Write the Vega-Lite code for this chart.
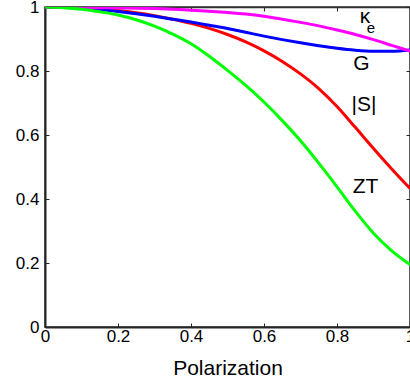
{
  "$schema": "https://vega.github.io/schema/vega-lite/v6.json",
  "width": 365,
  "height": 320,
  "autosize": "none",
  "padding": {"left": 45, "top": 7, "right": 0, "bottom": 56},
  "config": {
    "view": {"stroke": "#333333", "strokeWidth": 1.5},
    "font": "Liberation Sans",
    "axis": {"grid": false, "domainColor": "#262626", "tickColor": "#262626", "labelColor": "#000000", "titleColor": "#000000", "labelFont": "Liberation Sans", "titleFont": "Liberation Sans", "labelFontWeight": "normal", "titleFontWeight": "normal"}
  },
  "datasets": {
    "curves": [
      {"P": 0, "s": "S", "v": 1}, {"P": 0.05, "s": "S", "v": 0.999}, {"P": 0.1, "s": "S", "v": 0.997}, {"P": 0.15, "s": "S", "v": 0.994}, {"P": 0.2, "s": "S", "v": 0.989}, {"P": 0.25, "s": "S", "v": 0.982}, {"P": 0.3, "s": "S", "v": 0.973}, {"P": 0.35, "s": "S", "v": 0.962}, {"P": 0.4, "s": "S", "v": 0.949}, {"P": 0.45, "s": "S", "v": 0.933}, {"P": 0.5, "s": "S", "v": 0.914}, {"P": 0.55, "s": "S", "v": 0.891}, {"P": 0.6, "s": "S", "v": 0.863}, {"P": 0.65, "s": "S", "v": 0.83}, {"P": 0.7, "s": "S", "v": 0.791}, {"P": 0.75, "s": "S", "v": 0.745}, {"P": 0.8, "s": "S", "v": 0.689}, {"P": 0.85, "s": "S", "v": 0.624}, {"P": 0.9, "s": "S", "v": 0.558}, {"P": 0.95, "s": "S", "v": 0.494}, {"P": 1, "s": "S", "v": 0.433},
      {"P": 0, "s": "G", "v": 1}, {"P": 0.05, "s": "G", "v": 0.999}, {"P": 0.1, "s": "G", "v": 0.996}, {"P": 0.15, "s": "G", "v": 0.992}, {"P": 0.2, "s": "G", "v": 0.986}, {"P": 0.25, "s": "G", "v": 0.979}, {"P": 0.3, "s": "G", "v": 0.971}, {"P": 0.35, "s": "G", "v": 0.962}, {"P": 0.4, "s": "G", "v": 0.953}, {"P": 0.45, "s": "G", "v": 0.943}, {"P": 0.5, "s": "G", "v": 0.933}, {"P": 0.55, "s": "G", "v": 0.921}, {"P": 0.6, "s": "G", "v": 0.909}, {"P": 0.65, "s": "G", "v": 0.898}, {"P": 0.7, "s": "G", "v": 0.888}, {"P": 0.75, "s": "G", "v": 0.879}, {"P": 0.8, "s": "G", "v": 0.871}, {"P": 0.85, "s": "G", "v": 0.865}, {"P": 0.9, "s": "G", "v": 0.862}, {"P": 0.95, "s": "G", "v": 0.862}, {"P": 1, "s": "G", "v": 0.866},
      {"P": 0, "s": "K", "v": 1}, {"P": 0.05, "s": "K", "v": 1}, {"P": 0.1, "s": "K", "v": 0.999}, {"P": 0.15, "s": "K", "v": 0.998}, {"P": 0.2, "s": "K", "v": 0.997}, {"P": 0.25, "s": "K", "v": 0.996}, {"P": 0.3, "s": "K", "v": 0.995}, {"P": 0.35, "s": "K", "v": 0.993}, {"P": 0.4, "s": "K", "v": 0.99}, {"P": 0.45, "s": "K", "v": 0.987}, {"P": 0.5, "s": "K", "v": 0.983}, {"P": 0.55, "s": "K", "v": 0.978}, {"P": 0.6, "s": "K", "v": 0.971}, {"P": 0.65, "s": "K", "v": 0.962}, {"P": 0.7, "s": "K", "v": 0.952}, {"P": 0.75, "s": "K", "v": 0.941}, {"P": 0.8, "s": "K", "v": 0.928}, {"P": 0.85, "s": "K", "v": 0.914}, {"P": 0.9, "s": "K", "v": 0.898}, {"P": 0.95, "s": "K", "v": 0.88}, {"P": 1, "s": "K", "v": 0.862},
      {"P": 0, "s": "ZT", "v": 1}, {"P": 0.05, "s": "ZT", "v": 0.998}, {"P": 0.1, "s": "ZT", "v": 0.993}, {"P": 0.15, "s": "ZT", "v": 0.985}, {"P": 0.2, "s": "ZT", "v": 0.975}, {"P": 0.25, "s": "ZT", "v": 0.96}, {"P": 0.3, "s": "ZT", "v": 0.94}, {"P": 0.35, "s": "ZT", "v": 0.915}, {"P": 0.4, "s": "ZT", "v": 0.885}, {"P": 0.45, "s": "ZT", "v": 0.846}, {"P": 0.5, "s": "ZT", "v": 0.802}, {"P": 0.55, "s": "ZT", "v": 0.755}, {"P": 0.6, "s": "ZT", "v": 0.703}, {"P": 0.65, "s": "ZT", "v": 0.645}, {"P": 0.7, "s": "ZT", "v": 0.582}, {"P": 0.75, "s": "ZT", "v": 0.512}, {"P": 0.8, "s": "ZT", "v": 0.438}, {"P": 0.85, "s": "ZT", "v": 0.362}, {"P": 0.9, "s": "ZT", "v": 0.293}, {"P": 0.95, "s": "ZT", "v": 0.238}, {"P": 1, "s": "ZT", "v": 0.195}
    ],
    "labels": [
      {"P": 0.877, "v": 0.97, "t": "κ"},
      {"P": 0.867, "v": 0.821, "t": "G"},
      {"P": 0.874, "v": 0.694, "t": "|S|"},
      {"P": 0.878, "v": 0.438, "t": "ZT"}
    ],
    "subs": [
      {"P": 0.893, "v": 0.933, "t": "e"}
    ]
  },
  "layer": [
    {
      "data": {"name": "curves"},
      "mark": {"type": "line", "strokeWidth": 3, "interpolate": "monotone", "clip": true},
      "encoding": {
        "x": {"field": "P", "type": "quantitative", "scale": {"domain": [0, 1], "nice": false, "zero": false},
          "axis": {"orient": "bottom", "values": [0, 0.2, 0.4, 0.6, 0.8, 1], "format": "~g", "title": "Polarization", "titleFontSize": 21, "titleY": 47, "titleBaseline": "alphabetic", "labelFontSize": 17, "tickSize": -4, "labelPadding": 5, "domainWidth": 2, "tickWidth": 1, "labelFlush": false}},
        "y": {"field": "v", "type": "quantitative", "scale": {"domain": [0, 1], "nice": false},
          "axis": {"orient": "left", "values": [0, 0.2, 0.4, 0.6, 0.8, 1], "format": "~g", "title": null, "labelFontSize": 17, "tickSize": -4, "labelPadding": 10, "domainWidth": 2, "tickWidth": 1}},
        "color": {"field": "s", "type": "nominal", "legend": null,
          "scale": {"domain": ["S", "G", "K", "ZT"], "range": ["#ff0000", "#0000ff", "#ff00ff", "#00ff00"]}}
      }
    },
    {
      "data": {"name": "labels"},
      "mark": {"type": "text", "fontSize": 21, "align": "center", "baseline": "middle", "color": "#000000"},
      "encoding": {
        "x": {"field": "P", "type": "quantitative",
          "axis": {"orient": "top", "values": [0, 0.2, 0.4, 0.6, 0.8, 1], "labels": false, "title": null, "tickSize": -4, "domainWidth": 1.5, "domainColor": "#333333"}},
        "y": {"field": "v", "type": "quantitative",
          "axis": {"orient": "right", "values": [0, 0.2, 0.4, 0.6, 0.8, 1], "labels": false, "title": null, "tickSize": -4, "domainWidth": 1.5, "domainColor": "#333333"}},
        "text": {"field": "t"}
      }
    },
    {
      "data": {"name": "subs"},
      "mark": {"type": "text", "fontSize": 15, "align": "center", "baseline": "middle", "color": "#000000"},
      "encoding": {
        "x": {"field": "P", "type": "quantitative", "axis": null},
        "y": {"field": "v", "type": "quantitative", "axis": null},
        "text": {"field": "t"}
      }
    }
  ],
  "resolve": {"axis": {"x": "independent", "y": "independent"}}
}
